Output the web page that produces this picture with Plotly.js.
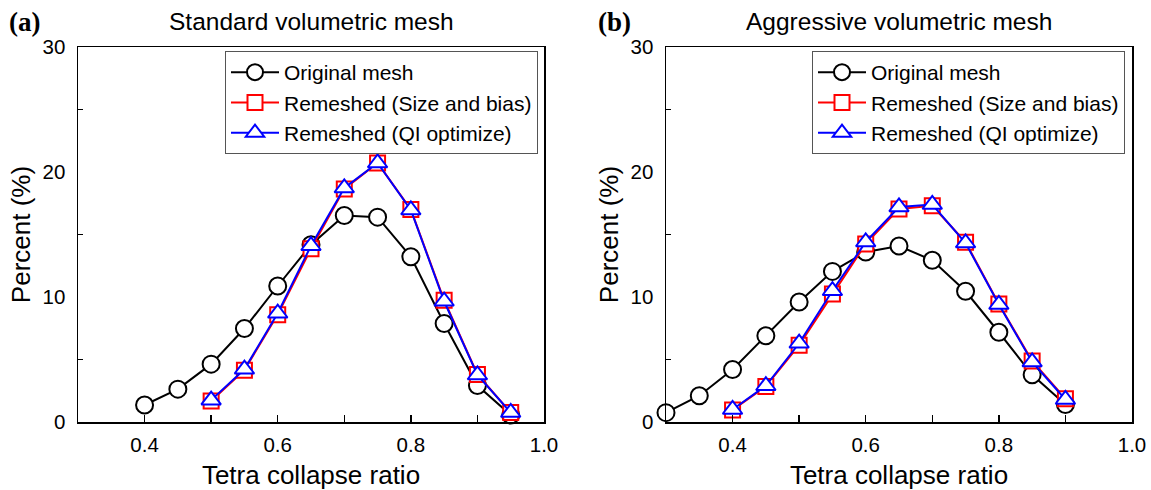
<!DOCTYPE html>
<html>
<head>
<meta charset="utf-8">
<script src="https://cdn.plot.ly/plotly-3.0.1.min.js"></script>
<style>
html,body{margin:0;padding:0;background:#fff;}
#chart{width:1151px;height:490px;}
</style>
</head>
<body>
<div id="chart"></div>
<script>
// ---- Data ----
const seriesNames = ["Original mesh", "Remeshed (Size and bias)", "Remeshed (QI optimize)"];
const panelTitles = ["Standard volumetric mesh", "Aggressive volumetric mesh"];
const panelLabels = ["(a)", "(b)"];
const xTitle = "Tetra collapse ratio";
const yTitle = "Percent (%)";

// (a) Standard volumetric mesh
const xOrigA = [0.40, 0.45, 0.50, 0.55, 0.60, 0.65, 0.70, 0.75, 0.80, 0.85, 0.90, 0.95];
const yOrigA = [1.36, 2.63, 4.63, 7.48, 10.88, 14.18, 16.52, 16.39, 13.22, 7.88, 2.92, 0.56];
const xRemA  = [0.50, 0.55, 0.60, 0.65, 0.70, 0.75, 0.80, 0.85, 0.90, 0.95];
const ySizeA = [1.68, 4.15, 8.59, 13.86, 18.65, 20.72, 17.00, 9.74, 3.80, 0.76];
const yQIA   = [1.75, 4.22, 8.70, 14.10, 18.72, 20.72, 16.96, 9.66, 3.76, 0.76];

// (b) Aggressive volumetric mesh
const xOrigB = [0.30, 0.35, 0.40, 0.45, 0.50, 0.55, 0.60, 0.65, 0.70, 0.75, 0.80, 0.85, 0.90];
const yOrigB = [0.75, 2.10, 4.20, 6.90, 9.60, 12.05, 13.60, 14.08, 12.94, 10.46, 7.18, 3.78, 1.40];
const xRemB  = [0.40, 0.45, 0.50, 0.55, 0.60, 0.65, 0.70, 0.75, 0.80, 0.85, 0.90];
const ySizeB = [0.96, 2.85, 6.15, 10.25, 14.25, 17.05, 17.30, 14.39, 9.45, 4.88, 1.86];
const yQIB   = [1.00, 2.90, 6.30, 10.50, 14.40, 17.20, 17.40, 14.32, 9.40, 4.80, 1.80];

const xTickVals = [0.4, 0.6, 0.8, 1.0];
const xMinorVals = [0.5, 0.7, 0.9];
const yTickVals = [0, 10, 20, 30];
const yMinorVals = [5, 15, 25];

// ---- Styling ----
const FONT = "Liberation Sans, Arial, sans-serif";
const styles = [
  {color: "#000000", symbol: "circle", size: 17},
  {color: "#ff0000", symbol: "square", size: 15},
  {color: "#0000ff", symbol: "triangle-up", size: 17}
];

function mk(x, y, i, xa, ya, leg) {
  const s = styles[i];
  return {
    x: x, y: y, type: "scatter", mode: "lines+markers",
    name: seriesNames[i], xaxis: xa, yaxis: ya, legend: leg,
    cliponaxis: false,
    line: {color: s.color, width: 2},
    marker: {symbol: s.symbol, size: s.size, color: "#ffffff",
             line: {color: s.color, width: 2}}
  };
}

const data = [
  mk(xOrigA, yOrigA, 0, "x", "y", "legend"),
  mk(xRemA, ySizeA, 1, "x", "y", "legend"),
  mk(xRemA, yQIA, 2, "x", "y", "legend"),
  mk(xOrigB, yOrigB, 0, "x2", "y2", "legend2"),
  mk(xRemB, ySizeB, 1, "x2", "y2", "legend2"),
  mk(xRemB, yQIB, 2, "x2", "y2", "legend2")
];

// plot-area pixel geometry
const W = 1151, H = 490;
const mL = 78, mR = 19, mT = 47, mB = 68;
const pw = W - mL - mR, ph = H - mT - mB;
const px = v => (v - mL) / pw;
const py = v => (H - mB - v) / ph;

function xax(domain, anchor) {
  return {
    domain: domain, anchor: anchor, range: [0.3, 1.0],
    tickmode: "array", tickvals: xTickVals, tickformat: ".1f",
    ticks: "inside", ticklen: 7, tickwidth: 1.5, tickcolor: "#000",
    minor: {tickmode: "array", tickvals: xMinorVals, ticks: "inside", ticklen: 7, tickwidth: 1.5, tickcolor: "#000", showgrid: false},
    showline: true, linewidth: 1.5, linecolor: "#000", mirror: true,
    showgrid: false, zeroline: false,
    ticklabelstandoff: 4,
    tickfont: {family: FONT, size: 20.5, color: "#000"},
    title: {text: xTitle, font: {family: FONT, size: 26, color: "#000"}, standoff: 11}
  };
}
function yax(domain, anchor) {
  return {
    domain: domain, anchor: anchor, range: [0, 30],
    tickmode: "array", tickvals: yTickVals,
    ticks: "", ticklen: 0,
    minor: {tickmode: "array", tickvals: yMinorVals, ticks: "inside", ticklen: 5, tickwidth: 1.5, tickcolor: "#000", showgrid: false},
    showline: true, linewidth: 1.5, linecolor: "#000", mirror: true,
    showgrid: false, zeroline: false,
    ticklabelstandoff: 7,
    tickfont: {family: FONT, size: 20.5, color: "#000"},
    title: {text: yTitle, font: {family: FONT, size: 26, color: "#000"}, standoff: 4}
  };
}

const dA = [0, px(544)], dB = [px(666), 1];
const legendCommon = {
  yanchor: "top", xanchor: "right", bgcolor: "#ffffff",
  bordercolor: "#555", borderwidth: 1,
  font: {family: FONT, size: 21, color: "#000"},
  itemwidth: 48, tracegroupgap: 0
};

const layout = {
  width: W, height: H,
  margin: {l: mL, r: mR, t: mT, b: mB, pad: 0},
  paper_bgcolor: "#fff", plot_bgcolor: "#fff",
  font: {family: FONT, color: "#000"},
  xaxis: xax(dA, "y"), yaxis: yax([0, 1], "x"),
  xaxis2: xax(dB, "y2"), yaxis2: yax([0, 1], "x2"),
  legend: Object.assign({x: px(538), y: py(51)}, legendCommon),
  legend2: Object.assign({x: px(1125), y: py(51)}, legendCommon),
  annotations: [
    {text: panelTitles[0], xref: "paper", yref: "paper", x: (dA[0] + dA[1]) / 2, y: py(37), xanchor: "center", yanchor: "bottom", showarrow: false, font: {family: FONT, size: 24.5, color: "#000"}},
    {text: panelTitles[1], xref: "paper", yref: "paper", x: (dB[0] + dB[1]) / 2, y: py(37), xanchor: "center", yanchor: "bottom", showarrow: false, font: {family: FONT, size: 24.5, color: "#000"}},
    {text: "<b>" + panelLabels[0] + "</b>", xref: "paper", yref: "paper", x: px(7), y: py(39), xanchor: "left", yanchor: "bottom", showarrow: false, font: {family: "Liberation Serif, Times New Roman, serif", size: 27, color: "#000"}},
    {text: "<b>" + panelLabels[1] + "</b>", xref: "paper", yref: "paper", x: px(596), y: py(39), xanchor: "left", yanchor: "bottom", showarrow: false, font: {family: "Liberation Serif, Times New Roman, serif", size: 27, color: "#000"}}
  ]
};

Plotly.newPlot("chart", data, layout, {displayModeBar: false, staticPlot: true});
</script>
</body>
</html>
